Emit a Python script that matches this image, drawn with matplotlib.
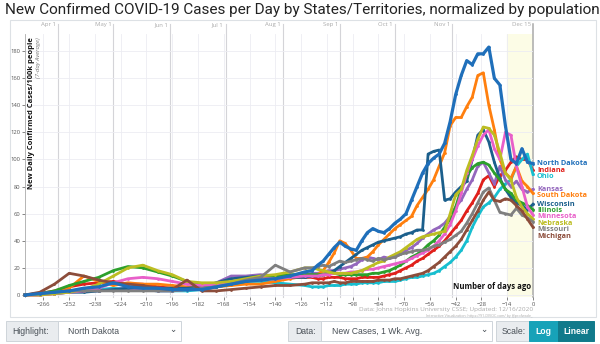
import matplotlib
matplotlib.use("Agg")
import matplotlib.pyplot as plt
from matplotlib.patches import Rectangle
import numpy as np

# days relative to Dec 15 (0); weekly-ish early, every 3 days later on
days = [-276, -268, -260, -252, -244, -236, -228, -220, -212, -204,
        -196, -188, -180, -172, -164, -156, -148, -140, -132, -124,
        -120, -117, -114, -111, -108, -105, -102, -99, -96, -93,
        -90, -87, -84, -81, -78, -75, -72, -69, -66, -63,
        -60, -57, -54, -51, -48, -45, -42, -39, -36, -33,
        -30, -27, -24, -21, -18, -15, -12, -9, -6, -3, 0]

north_dakota = [0, 1, 2, 3, 5, 6, 9, 6, 5, 5,
                4, 4, 4, 6, 8, 10, 11, 12, 14, 17,
                18, 22, 25, 30, 35, 39, 36, 34, 33, 40,
                46, 49, 47, 46, 49, 53, 56, 60, 70, 80,
                90, 97, 101, 104, 112, 128, 148, 162, 173, 170,
                178, 178, 183, 160, 155, 125, 100, 97, 108, 98, 97]
indiana = [0, 1, 3, 6, 8, 9, 10, 8, 8, 6,
           5, 5, 4, 6, 9, 11, 12, 12, 13, 13,
           13, 12, 12, 13, 13, 13, 12, 12, 12, 13,
           13, 13, 13, 14, 15, 16, 18, 20, 22, 25,
           27, 30, 33, 36, 40, 45, 50, 55, 62, 68,
           75, 85, 88, 80, 88, 92, 98, 102, 100, 100, 92]
ohio = [0, 1, 2, 3, 3, 4, 5, 4, 4, 3,
        3, 3, 4, 6, 9, 10, 10, 9, 8, 7,
        6, 6, 6, 7, 7, 7, 8, 8, 8, 9,
        9, 9, 9, 10, 10, 10, 11, 12, 13, 13,
        14, 15, 16, 18, 21, 24, 28, 33, 40, 50,
        58, 65, 68, 72, 78, 82, 85, 95, 100, 104, 89]
kansas = [0, 0, 1, 2, 3, 3, 4, 5, 4, 3,
          3, 4, 6, 9, 14, 14, 15, 14, 14, 15,
          16, 16, 17, 18, 18, 19, 20, 21, 23, 26,
          28, 27, 26, 28, 27, 28, 30, 33, 35, 38,
          42, 45, 48, 50, 53, 58, 65, 70, 78, 85,
          95, 98, 90, 82, 95, 85, 80, 84, 78, 76, 78]
south_dakota = [0, 0, 1, 5, 14, 10, 7, 9, 8, 8,
                7, 6, 6, 6, 7, 8, 8, 10, 12, 14,
                14, 15, 18, 24, 31, 40, 38, 33, 27, 27,
                28, 32, 37, 41, 45, 49, 52, 55, 58, 66,
                72, 78, 85, 95, 105, 125, 131, 131, 139, 146,
                162, 164, 140, 122, 100, 90, 86, 95, 84, 80, 75]
wisconsin = [0, 1, 1, 2, 2, 3, 4, 5, 6, 5,
             5, 5, 6, 9, 12, 13, 14, 14, 13, 13,
             14, 14, 15, 16, 18, 21, 24, 27, 30, 33,
             35, 37, 39, 40, 41, 42, 43, 45, 46, 48,
             48, 104, 106, 107, 70, 71, 76, 80, 84, 100,
             118, 122, 113, 98, 86, 78, 72, 68, 66, 63, 67]
illinois = [0, 1, 3, 7, 10, 13, 18, 21, 20, 17,
            14, 10, 7, 6, 8, 10, 12, 14, 15, 15,
            15, 15, 15, 16, 16, 15, 15, 15, 15, 15,
            15, 16, 16, 17, 18, 20, 22, 25, 28, 30,
            33, 37, 40, 44, 50, 56, 65, 78, 88, 94,
            97, 98, 96, 90, 85, 78, 75, 70, 68, 66, 63]
minnesota = [0, 0, 1, 2, 3, 5, 9, 12, 13, 12,
             10, 8, 7, 8, 9, 11, 12, 12, 13, 14,
             14, 14, 15, 15, 16, 16, 16, 17, 17, 18,
             19, 19, 20, 21, 22, 23, 24, 25, 27, 29,
             31, 33, 36, 40, 45, 52, 62, 75, 90, 100,
             110, 118, 122, 108, 100, 120, 118, 95, 80, 65, 59]
nebraska = [0, 0, 1, 2, 4, 8, 14, 20, 22, 18,
            15, 10, 9, 9, 10, 12, 14, 15, 17, 20,
            20, 19, 18, 17, 16, 16, 16, 16, 17, 18,
            20, 22, 24, 25, 28, 30, 32, 35, 38, 41,
            43, 44, 45, 46, 47, 60, 74, 78, 92, 103,
            115, 124, 123, 118, 105, 90, 85, 72, 65, 60, 56]
missouri = [0, 1, 2, 3, 3, 3, 3, 3, 3, 3,
            3, 4, 5, 6, 8, 11, 13, 22, 17, 20,
            20, 21, 22, 21, 23, 25, 24, 25, 26, 27,
            26, 25, 27, 26, 27, 28, 30, 31, 32, 33,
            33, 34, 36, 37, 39, 41, 44, 47, 53, 60,
            68, 76, 79, 70, 61, 60, 59, 64, 59, 57, 54]
michigan = [0, 2, 8, 16, 14, 11, 9, 8, 7, 5,
            4, 11, 3, 3, 4, 5, 6, 7, 7, 8,
            9, 9, 9, 9, 10, 9, 9, 10, 10, 10,
            10, 10, 11, 11, 11, 12, 12, 13, 14, 15,
            16, 18, 21, 24, 28, 32, 36, 41, 48, 55,
            62, 70, 76, 70, 69, 71, 70, 66, 62, 56, 50]

states = ["North Dakota", "Indiana", "Ohio", "Kansas", "South Dakota", "Wisconsin",
          "Illinois", "Minnesota", "Nebraska", "Missouri", "Michigan"]
series = [north_dakota, indiana, ohio, kansas, south_dakota, wisconsin,
          illinois, minnesota, nebraska, missouri, michigan]
colors = ["#1f6fba", "#e0201b", "#17becf", "#9467bd", "#ff7f0e", "#1b5f8c",
          "#2ca02c", "#e85fc9", "#bcbd22", "#7f7f7f", "#8c4d3b"]

month_days = [-258, -228, -197, -167, -136, -105, -75, -44, 0]
month_names = ["Apr 1", "May 1", "Jun 1", "Jul 1", "Aug 1", "Sep 1", "Oct 1", "Nov 1", "Dec 15"]

W, H = 600, 344
fig = plt.figure(figsize=(W / 100, H / 100), dpi=100)

def fx(px):
    return px / W

def fy(py):
    return 1 - py / H

# outer panel around the chart
fig.patches.append(Rectangle((fx(10), fy(317)), fx(586), 297 / H, transform=fig.transFigure,
                             facecolor="white", edgecolor="#dde1e5", lw=0.8, zorder=-5))

fig.text(fx(5), fy(10), "New Confirmed COVID-19 Cases per Day by States/Territories, normalized by population",
         family="Roboto", fontsize=10.95, color="#222222", va="center", ha="left")

ax = fig.add_axes([fx(25), fy(297), fx(508), 263.5 / H])
ax.set_zorder(2)
ax.set_facecolor("none")
ax.set_xlim(-276, 0)
ax.set_ylim(-1.5, 193)

ax.axvspan(-14, 0, color="#fcfce6", zorder=0)
ax.set_xticks(np.arange(-266, 1, 14))
ax.set_yticks(np.arange(0, 181, 20))
ax.grid(True, color="#ececf2", lw=0.6, zorder=0)
ax.tick_params(labelsize=4.2, colors="#555555", length=2, width=0.5, pad=1.5)
for lbl in ax.get_xticklabels() + ax.get_yticklabels():
    lbl.set_family("Open Sans")
for s in ["top", "right", "bottom"]:
    ax.spines[s].set_visible(False)
ax.spines["left"].set_color("#aaaaaa")
ax.spines["left"].set_linewidth(0.6)

for d, name in zip(month_days, month_names):
    lc = "#aaaaaa" if d == 0 else "#d4d4d8"
    ax.plot([d, d], [-1.5, 200], color=lc, lw=0.8 if d else 1.1, clip_on=False, zorder=1)
    ax.text(d - 1, 199.5, name, ha="right", va="center", fontsize=4.3,
            color="#aaaaaa", family="Open Sans", clip_on=False)

# other states first, highlighted state drawn on top
order = list(range(1, len(states))) + [0]
for i in order:
    lw = 2.0 if i else 2.3
    ax.plot(days, series[i], color=colors[i], lw=lw, marker="o", ms=2.0,
            mew=0, zorder=3 if i else 4, clip_on=False)

# end labels, pushed apart so they do not overlap
finals = [s[-1] for s in series]
rank = sorted(range(len(states)), key=lambda k: -finals[k])
gap = 4.7
label_y = {}
prev = None
for k in rank:
    y = finals[k] if prev is None else min(finals[k], prev - gap)
    label_y[k] = y
    prev = y
for k in rank:
    ax.text(2.2, label_y[k], states[k], color=colors[k], fontsize=5.3, fontweight="bold",
            family="Open Sans", va="center", ha="left", clip_on=False)

ax.text(0.012, 0.985, "New Daily Confirmed Cases/100k people", transform=ax.transAxes,
        rotation=90, ha="center", va="top", fontsize=5.4, fontweight="bold",
        family="Open Sans", color="#111111")
ax.text(0.027, 0.985, "(7-day Average)", transform=ax.transAxes, rotation=90,
        ha="center", va="top", fontsize=4.3, style="italic", family="Open Sans", color="#777777")
ax.text(-1, 3, "Number of days ago", ha="right", va="bottom", fontsize=5.6,
        fontweight="bold", family="Open Sans", color="#111111")

fig.text(fx(533), fy(309), "Data: Johns Hopkins University CSSE; Updated: 12/16/2020",
         ha="right", va="center", fontsize=4.6, color="#aaaaaa", family="Open Sans")
fig.text(fx(533), fy(315.5), "Interactive Visualization: https://91-DIVOC.com/ by @profwade_",
         ha="right", va="center", fontsize=2.6, color="#aaaaaa", family="Open Sans")

# control bar under the chart
def box(x0, x1, face, edge="#ced4da"):
    fig.patches.append(Rectangle((fx(x0), fy(341)), fx(x1 - x0), 20 / H, transform=fig.transFigure,
                                 facecolor=face, edgecolor=edge, lw=0.7, zorder=1))

box(6, 58, "#e9ecef")
box(58, 181, "white")
box(288, 321, "#e9ecef")
box(321, 492, "white")
box(496, 529, "#e9ecef")
box(529, 558, "#17a2b8", "#17a2b8")
box(558, 594, "#117a8b", "#117a8b")
ui = dict(va="center", fontsize=6.2, family="Liberation Sans", color="#495057")
fig.text(fx(12), fy(331), "Highlight:", **ui)
fig.text(fx(68), fy(331), "North Dakota", **ui)
fig.text(fx(295), fy(331), "Data:", **ui)
fig.text(fx(332), fy(331), "New Cases, 1 Wk. Avg.", **ui)
fig.text(fx(502), fy(331), "Scale:", **ui)
chev = dict(va="center", ha="center", fontsize=6.2, color="#495057",
            family=["DejaVu Sans", "Noto Sans CJK SC"])
fig.text(fx(173), fy(330), "\u2304", **chev)
fig.text(fx(484), fy(330), "\u2304", **chev)
fig.text(fx(543.5), fy(331), "Log", ha="center", va="center", fontsize=6.2,
         family="Liberation Sans", fontweight="bold", color="white")
fig.text(fx(576), fy(331), "Linear", ha="center", va="center", fontsize=6.2,
         family="Liberation Sans", fontweight="bold", color="white")

fig.savefig("out.png", dpi=100)
